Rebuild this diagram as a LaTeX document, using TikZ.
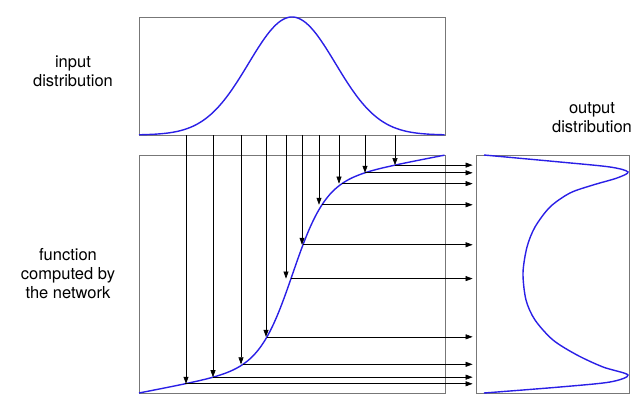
\documentclass[tikz,border=0pt]{standalone}
\usepackage{fontspec}
\setmainfont{TeX Gyre Heros}
\usepackage{xcolor}
\definecolor{curveblue}{HTML}{2A1FE6}
\definecolor{framegray}{HTML}{777777}
\usepackage{tikz}
\usetikzlibrary{arrows.meta,positioning}

\begin{document}
\begin{tikzpicture}[
        x=1pt, y=-1pt,
        box/.style={rectangle, draw=framegray, line width=0.8pt, inner sep=0pt},
        label/.style={align=center, font=\fontsize{16.5}{19}\selectfont},
        curve/.style={curveblue, line width=1.4pt},
        arrow/.style={-{Triangle[length=7pt,width=5pt]}, line width=0.6pt},
        declare function={sig(\u)=0.25*\u+0.75/(1+exp(-max(-9,min(9,18.5*(\u-0.502)))));}
    ]
        \useasboundingbox (0,0) rectangle (639,410);

        % Boxes
        \node[box, minimum width=306, minimum height=118] (in) at (292,76) {};
        \node[box, minimum width=306, minimum height=238] (fn) at (292,274) {};
        \node[box, minimum width=153, minimum height=238] (out) at (552.5,274) {};

        % Labels
        \node[label] (inlabel) at (73,71) {input\\distribution};
        \node[label] (fnlabel) at (68,274) {function\\computed by\\the network};
        \node[label] (outlabel) at (592,118) {output\\distribution};

        % Samples: q on the input axis, p on the function
        \foreach \xv/\xh [count=\i] in {186/185, 213/213, 241/243, 266/267, 286/291,
                302/303, 319/322, 339/342, 365/365, 395/395} {
            \coordinate (q\i) at (\xv,0 |- in.south);
            \coordinate (p\i) at (\xh,{393-238*sig((\xh-139)/306)});
        }

        % Input distribution
        \draw[curve, domain=0:1, samples=120]
            plot ({139+306*\x}, {135-118*exp(-((\x-0.5)^2)/(2*0.142^2))});

        % Function
        \draw[curve, domain=0:1, samples=150]
            plot ({139+306*\x}, {393-238*sig(\x)});

        % Output distribution
        \draw[curve] plot[smooth, tension=0.5] coordinates {(484,155) (560,162) (610,167)
            (628,172) (617,178) (593,185) (570,193) (550,207) (535,227) (527,247)
            (523,273) (526,300) (535,320) (553,340) (577,355) (603,367) (628,375)
            (610,382) (560,387) (484,393)};

        % Arrows
        \foreach \i in {1,...,10} {
            \draw[arrow] (q\i) -- (q\i |- p\i);
            \draw[arrow, shorten >=3pt] (p\i) -- (p\i -| out.west);
        }

    \end{tikzpicture}
\end{document}
